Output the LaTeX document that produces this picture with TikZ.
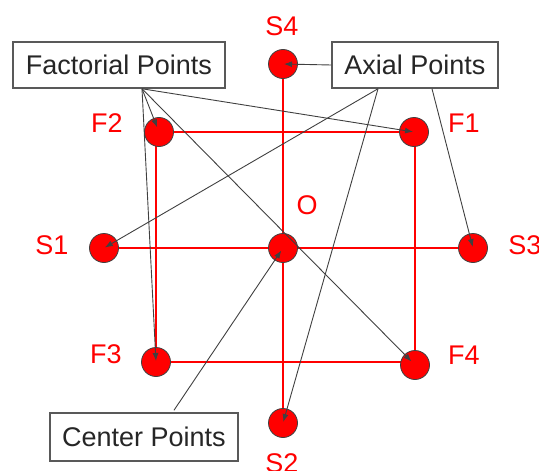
\documentclass[tikz,border=0pt]{standalone}
\usepackage{fontspec}
\setmainfont{Liberation Sans}
\usetikzlibrary{arrows.meta}
\begin{document}
\begin{tikzpicture}[x=1pt,y=-1pt,
  pt/.style={circle,minimum size=29pt,inner sep=0pt,fill=red,draw=black!75,line width=0.8pt},
  lbl/.style={text=red,font=\fontsize{27}{30}\selectfont,inner sep=0pt},
  box/.style={draw=black!65,line width=1.5pt,fill=white,font=\fontsize{27}{30}\selectfont,text=black!85,inner sep=0pt},
  grid/.style={red,line width=2.8pt},
  conn/.style={black!75,line width=0.9pt,-{Latex[length=8pt,width=6pt]},shorten >=1pt}]
\useasboundingbox (0,0) rectangle (539,471);
% grid corners
\coordinate (gTL) at (156,132);
\coordinate (gTR) at (415,132);
\coordinate (gBR) at (415,362);
\coordinate (gBL) at (156,362);
\coordinate (cS4) at (283,64);
\coordinate (cS2) at (283,423);
\coordinate (cS1) at (104,248);
\coordinate (cS3) at (473,248);
% red lines
\draw[grid] (gTL) -- (gTR) -- (gBR) -- (gBL) -- cycle;
\draw[grid] (cS4) -- (cS2);
\draw[grid] (cS1) -- (cS3);
% points
\node[pt] (F2) at (159,132) {};
\node[pt] (F1) at (414,132) {};
\node[pt] (F3) at (156,362) {};
\node[pt] (F4) at (415,365) {};
\node[pt] (S4) at (cS4) {};
\node[pt] (S2) at (cS2) {};
\node[pt] (S1) at (cS1) {};
\node[pt] (S3) at (cS3) {};
\node[pt] (O) at (283,248) {};
% labels
\node[lbl] (lS4) at (282,26) {S4};
\node[lbl] (lF2) at (107,123) {F2};
\node[lbl] (lF1) at (464,123) {F1};
\node[lbl] (lO) at (307,205) {O};
\node[lbl] (lS1) at (52,245) {S1};
\node[lbl] (lS3) at (525,245) {S3};
\node[lbl] (lF3) at (106,354) {F3};
\node[lbl] (lF4) at (464,355) {F4};
\node[lbl] (lS2) at (282,463) {S2};
% boxes
\node[box,minimum width=212pt,minimum height=46pt] (FP) at (119,65) {Factorial Points};
\node[box,minimum width=166pt,minimum height=46pt] (AP) at (415,65) {Axial Points};
\node[box,minimum width=188pt,minimum height=48pt] (CP) at (144,437) {Center Points};
% connectors
\coordinate (fpo) at ([xshift=23pt]FP.south);
\coordinate (apo) at ([xshift=-37pt]AP.south);
\coordinate (apr) at ([xshift=17pt]AP.south);
\coordinate (cpo) at ([xshift=30pt,yshift=2pt]CP.north);
\draw[conn,shorten >=5pt] (fpo) -- (F2.center);
\draw[conn] (fpo) -- (F3.center);
\draw[conn] (fpo) -- (F1.center);
\draw[conn,shorten >=5pt] (fpo) -- (F4.center);
\draw[conn] (AP.west) -- (S4.center);
\draw[conn] (apo) -- (S1.center);
\draw[conn] (apo) -- (S2.center);
\draw[conn] (apr) -- (S3.center);
\draw[conn,shorten >=3pt] (cpo) -- (O.center);
\end{tikzpicture}
\end{document}
